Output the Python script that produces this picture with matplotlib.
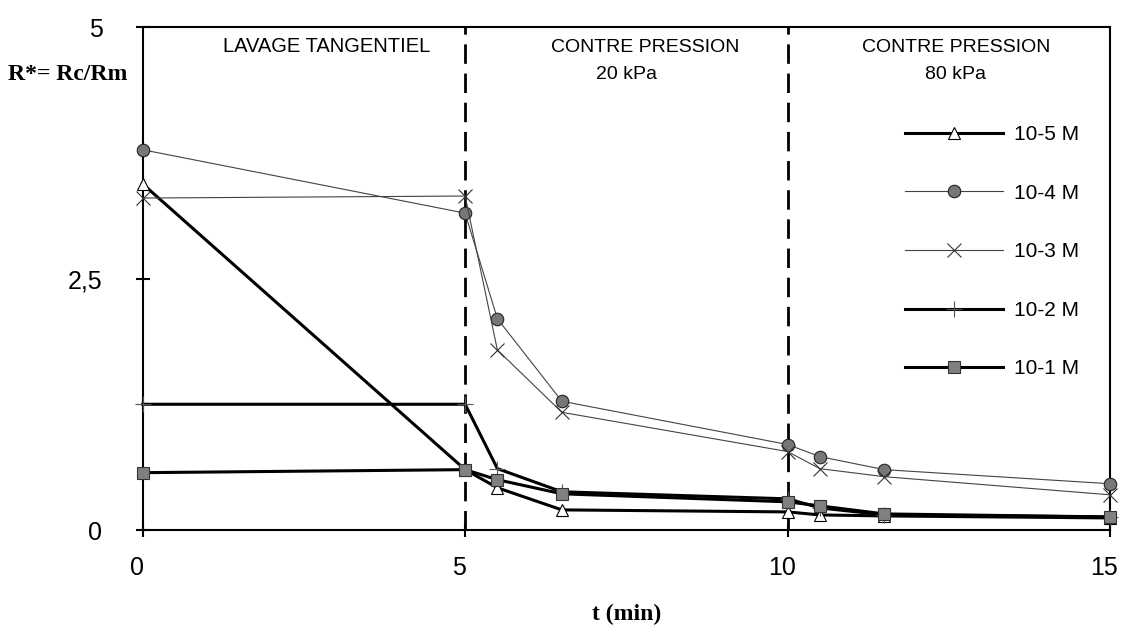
import matplotlib
matplotlib.use('Agg')
from matplotlib import pyplot as plt
from matplotlib import transforms

# time points (min)
t = [0, 5, 5.5, 6.5, 10, 10.5, 11.5, 15]

# R* = Rc/Rm for each concentration
r_1e5 = [3.44, 0.60, 0.42, 0.20, 0.18, 0.15, 0.14, 0.12]
r_1e4 = [3.78, 3.15, 2.10, 1.28, 0.85, 0.73, 0.60, 0.46]
r_1e3 = [3.30, 3.32, 1.79, 1.17, 0.78, 0.61, 0.53, 0.35]
r_1e2 = [1.25, 1.25, 0.61, 0.38, 0.31, 0.22, 0.15, 0.13]
r_1e1 = [0.57, 0.60, 0.50, 0.36, 0.28, 0.24, 0.16, 0.13]

labels = ['10-5 M', '10-4 M', '10-3 M', '10-2 M', '10-1 M']
phase_limits = [5, 10]
xticks = [0, 5, 10, 15]
yticks = [0, 2.5, 5]
ytick_labels = ['0', '2,5', '5']

plt.rcParams['font.family'] = ['Liberation Sans', 'DejaVu Sans']

fig = plt.figure(figsize=(11.21, 6.33), dpi=100)
ax = fig.add_axes([0.1273, 0.1627, 0.8629, 0.7946])

# Phase separators
for xv in phase_limits:
    ax.axvline(xv, color='black', lw=2, linestyle=(0, (7, 3.5)), zorder=1)

ax.plot(t, r_1e5, color='black', lw=2.2, marker='^', ms=9,
        mfc='white', mec='black', mew=0.8, label=labels[0], zorder=3,
        clip_on=False)
ax.plot(t, r_1e4, color='#444444', lw=0.8, marker='o', ms=9,
        mfc='#777777', mec='#222222', mew=0.8, label=labels[1], zorder=4,
        clip_on=False)
ax.plot(t, r_1e3, color='#444444', lw=0.8, marker='x', ms=10,
        mec='#333333', mew=0.8, label=labels[2], zorder=4, clip_on=False)
ax.plot(t, r_1e2, color='black', lw=2.2, marker='+', ms=11,
        mec='#555555', mew=0.8, label=labels[3], zorder=3, clip_on=False)
ax.plot(t, r_1e1, color='black', lw=2.2, marker='s', ms=9,
        mfc='#808080', mec='#333333', mew=0.8, label=labels[4], zorder=5,
        clip_on=False)

ax.set_xlim(0, 15)
ax.set_ylim(0, 5)
ax.set_xticks(xticks)
ax.set_yticks(yticks)
ax.set_yticklabels(ytick_labels)
ax.tick_params(axis='both', direction='inout', length=10, width=1.5,
               labelsize=18)
ax.tick_params(axis='x', pad=14)
ax.tick_params(axis='y', pad=24)
for s in ax.spines.values():
    s.set_linewidth(1.5)

# shift x tick labels slightly left, as in the original
shift = transforms.ScaledTranslation(-6 / 100, 0, fig.dpi_scale_trans)
for lab in ax.get_xticklabels():
    lab.set_transform(lab.get_transform() + shift)

# Phase annotations
ax.text(2.85, 4.81, 'LAVAGE TANGENTIEL', ha='center', va='center', fontsize=14.5)
ax.text(7.79, 4.80, 'CONTRE PRESSION', ha='center', va='center', fontsize=14)
ax.text(7.50, 4.53, '20 kPa', ha='center', va='center', fontsize=14)
ax.text(12.62, 4.80, 'CONTRE PRESSION', ha='center', va='center', fontsize=14)
ax.text(12.60, 4.53, '80 kPa', ha='center', va='center', fontsize=14)

ax.legend(loc='upper left', bbox_to_anchor=(0.788, 0.805), frameon=False,
          fontsize=15, numpoints=1, handlelength=4.7, handletextpad=0.55,
          labelspacing=1.9, borderpad=0, borderaxespad=0)

fig.text(8 / 1121, 1 - 75 / 633, 'R*= Rc/Rm', ha='left', va='center',
         fontsize=17, fontweight='bold', family='Liberation Serif')
fig.text(627 / 1121, 1 - 614 / 633, 't (min)', ha='center', va='center',
         fontsize=17, fontweight='bold', family='Liberation Serif')

fig.savefig('out.png', dpi=100)
